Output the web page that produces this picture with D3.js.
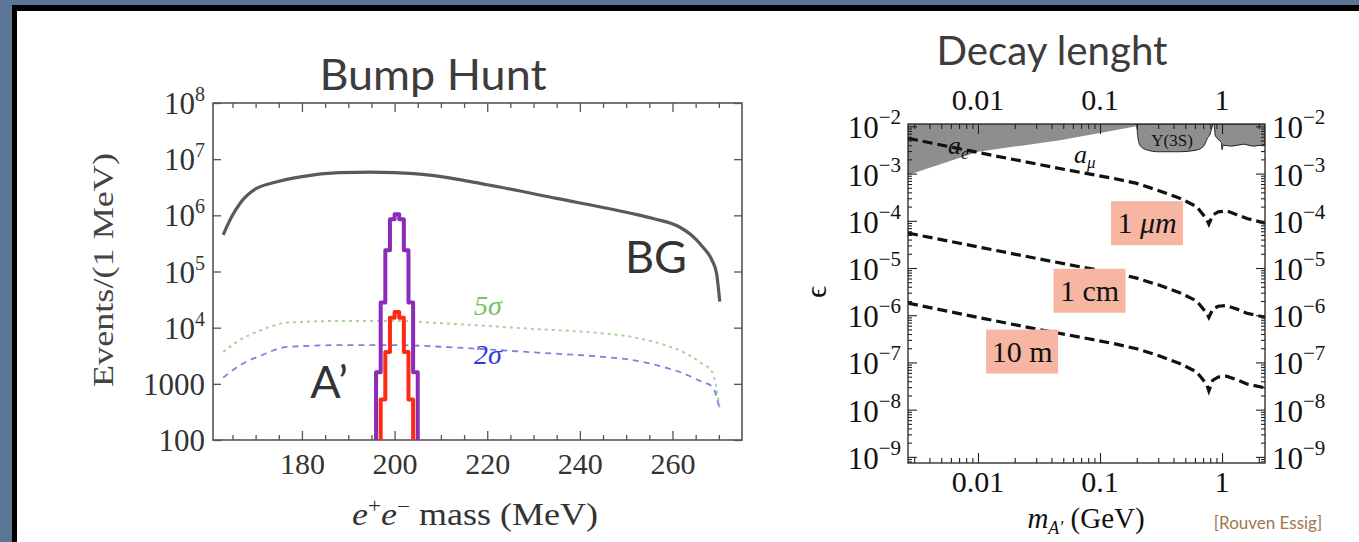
<!DOCTYPE html>
<html>
<head>
<meta charset="utf-8">
<script src="https://cdn.jsdelivr.net/npm/d3@7"></script>
<style>
  body { margin: 0; background: #fff; }
  svg { display: block; }
</style>
</head>
<body>
<div id="chart"></div>
<script>
// ---- bump hunt (left) ----
const bgMass = [163, 164.8, 166.7, 170, 173.8, 180, 188, 195, 200, 207.6, 220, 235, 250.7, 256, 261.5, 264, 266.5, 268.5, 269.5, 270.2];
const bgEvents = [4.5e5, 9.3e5, 1.66e6, 2.95e6, 3.8e6, 4.9e6, 5.75e6, 5.9e6, 5.75e6, 5.2e6, 3.5e6, 2.0e6, 1.1e6, 8.7e5, 6.2e5, 4.5e5, 2.75e5, 1.6e5, 9.3e4, 2.9e4];

const sigmaMass = [163, 167, 171, 177, 190, 200, 210, 230, 245, 251, 258, 262, 266, 268.6, 270.2];
const fiveSigma = [3700, 6300, 8900, 1.23e4, 1.32e4, 1.32e4, 1.2e4, 9500, 7900, 6900, 5000, 3800, 2400, 1600, 350];
const twoSigma = [1290, 2240, 3160, 4570, 4900, 4900, 4570, 3630, 3020, 2690, 2000, 1580, 1120, 890, 350];

const purpleEdges = [196, 197, 198, 199, 200, 201, 202, 203, 204, 205];
const purpleCounts = [1600, 2.8e4, 2.4e5, 8.5e5, 1.05e6, 8.5e5, 2.4e5, 2.8e4, 1600];
const redEdges = [197, 198, 199, 200, 201, 202, 203, 204];
const redCounts = [525, 3700, 1.5e4, 1.9e4, 1.5e4, 3700, 525];

const massTicks = [180, 200, 220, 240, 260];
const eventTicks = [100, 1000, 1e4, 1e5, 1e6, 1e7, 1e8];

// ---- decay length (right) ----
const lineMass = [0.00267, 0.01, 0.03, 0.07, 0.13, 0.2, 0.3, 0.45, 0.62, 0.75, 0.78, 0.84, 0.93, 1.09, 1.32, 1.6, 2.25];
const eps1um = [5.6e-3, 2.8e-3, 1.6e-3, 1.05e-3, 7.9e-4, 6.2e-4, 4.4e-4, 3.0e-4, 2.0e-4, 1.07e-4, 8.5e-5, 1.32e-4, 1.55e-4, 1.62e-4, 1.35e-4, 1.12e-4, 8.9e-5];
const eps1cm = [5.5e-5, 2.8e-5, 1.6e-5, 1.05e-5, 7.9e-6, 6.1e-6, 4.4e-6, 3.0e-6, 2.0e-6, 1.1e-6, 9.0e-7, 1.35e-6, 1.55e-6, 1.6e-6, 1.35e-6, 1.1e-6, 9.1e-7];
const eps10m = [1.8e-6, 9.0e-7, 5.1e-7, 3.4e-7, 2.5e-7, 1.95e-7, 1.4e-7, 9.5e-8, 6.3e-8, 3.4e-8, 2.5e-8, 4.2e-8, 4.9e-8, 5.1e-8, 4.3e-8, 3.5e-8, 2.9e-8];

// excluded regions (lower boundaries)
const amuMass = [0.00267, 0.01, 0.047, 0.2];
const amuEps = [9.3e-4, 2.9e-3, 5.1e-3, 1.0e-2];
const upsMass = [0.2, 0.205, 0.215, 0.24, 0.3, 0.45, 0.6, 0.7, 0.76, 0.8, 0.84];
const upsEps = [1.12e-2, 5.6e-3, 3.8e-3, 3.2e-3, 2.9e-3, 2.9e-3, 3.1e-3, 3.7e-3, 5.6e-3, 7.0e-3, 1.12e-2];
const hiMass = [0.86, 0.88, 0.95, 0.99, 1.0, 1.02, 1.2, 1.5, 1.8, 2.1, 2.25];
const hiEps = [1.12e-2, 6.3e-3, 5.0e-3, 4.5e-3, 3.2e-3, 4.0e-3, 3.8e-3, 4.2e-3, 3.8e-3, 4.0e-3, 4.2e-3];

const gevTicks = [0.01, 0.1, 1];
const epsExp = [-2, -3, -4, -5, -6, -7, -8, -9];

const W = 1359, H = 542;
const svg = d3.select('#chart').append('svg')
    .attr('width', W)
    .attr('height', H);

// slide frame
svg.append('rect').attr('width', W).attr('height', H).attr('fill', '#5b7596');
svg.append('rect').attr('x', 12).attr('y', 5).attr('width', W - 12).attr('height', H - 5).attr('fill', '#000');
svg.append('rect').attr('x', 17).attr('y', 11).attr('width', W - 17).attr('height', H - 11).attr('fill', '#fff');

const titleFont = 'Lato, "Open Sans", sans-serif';
const serif = '"Liberation Serif", "DejaVu Serif", serif';

svg.append('text').attr('x', 433).attr('y', 90)
    .attr('text-anchor', 'middle').attr('font-family', titleFont)
    .attr('font-size', 43).attr('fill', '#3c3c3c')
    .attr('textLength', 227).attr('lengthAdjust', 'spacingAndGlyphs').text('Bump Hunt');
svg.append('text').attr('x', 1052).attr('y', 65)
    .attr('text-anchor', 'middle').attr('font-family', titleFont)
    .attr('font-size', 40).attr('fill', '#3c3c3c')
    .attr('textLength', 231).attr('lengthAdjust', 'spacingAndGlyphs').text('Decay lenght');

// ================= left chart =================
const bx = d3.scaleLinear().domain([160.8, 275]).range([213, 742]);
const by = d3.scaleLog().domain([100, 1e8]).range([440, 103]);
const left = svg.append('g');

left.append('clipPath').attr('id', 'clipL')
    .append('rect').attr('x', 213).attr('y', 103).attr('width', 529).attr('height', 337);

function styleAxis(g, color) {
    g.select('.domain').remove();
    g.selectAll('line').attr('stroke', color).attr('stroke-width', 1.3);
}

const minorMass = d3.range(165, 275, 5).filter(d => d % 20 !== 0);
left.append('g').attr('transform', 'translate(0,440)')
    .call(d3.axisBottom(bx).tickValues(minorMass).tickSizeInner(-5).tickFormat(''))
    .call(g => styleAxis(g, '#555'));
left.append('g').attr('transform', 'translate(0,440)')
    .call(d3.axisBottom(bx).tickValues(massTicks).tickSizeInner(-9).tickPadding(13).tickFormat(d3.format('d')))
    .call(g => styleAxis(g, '#555'))
    .call(g => g.selectAll('text').attr('font-family', serif).attr('font-size', 30).attr('fill', '#333'));
left.append('g').attr('transform', 'translate(0,103)')
    .call(d3.axisTop(bx).tickValues(minorMass).tickSizeInner(-5).tickFormat(''))
    .call(g => styleAxis(g, '#555'));
left.append('g').attr('transform', 'translate(0,103)')
    .call(d3.axisTop(bx).tickValues(massTicks).tickSizeInner(-9).tickFormat(''))
    .call(g => styleAxis(g, '#555'));
left.append('g').attr('transform', 'translate(742,0)')
    .call(d3.axisRight(by).tickValues(eventTicks).tickSizeInner(-8).tickFormat(''))
    .call(g => styleAxis(g, '#555'));
left.append('g').attr('transform', 'translate(213,0)')
    .call(d3.axisLeft(by).tickValues(eventTicks).tickSizeInner(-8).tickFormat(''))
    .call(g => styleAxis(g, '#555'));

eventTicks.forEach(v => {
    const e = Math.round(Math.log10(v));
    const t = left.append('text').attr('x', 205).attr('y', by(v) + 11)
        .attr('text-anchor', 'end').attr('font-family', serif)
        .attr('font-size', 31).attr('fill', '#333');
    if (e <= 3) {
        t.text(String(v));
    } else {
        t.append('tspan').text('10');
        t.append('tspan').attr('font-size', 20).attr('dy', -13).text(e);
    }
});

left.append('rect').attr('x', 213).attr('y', 103).attr('width', 529).attr('height', 337)
    .attr('fill', 'none').attr('stroke', '#555').attr('stroke-width', 1.6);

const lineL = d3.line().x(d => bx(d[0])).y(d => by(d[1])).curve(d3.curveMonotoneX);
const plotL = left.append('g').attr('clip-path', 'url(#clipL)');

plotL.append('path').datum(d3.zip(sigmaMass, fiveSigma))
    .attr('d', lineL).attr('fill', 'none')
    .attr('stroke', '#a9d49a').attr('stroke-width', 2).attr('stroke-dasharray', '3,4');
plotL.append('path').datum(d3.zip(sigmaMass, twoSigma))
    .attr('d', lineL).attr('fill', 'none')
    .attr('stroke', '#7c82e0').attr('stroke-width', 1.8).attr('stroke-dasharray', '6,5');

plotL.append('path').datum(d3.zip(bgMass, bgEvents))
    .attr('d', lineL).attr('fill', 'none')
    .attr('stroke', '#5a5a5a').attr('stroke-width', 3.2);

function stepPoints(edges, counts) {
    const pts = [[edges[0], 100]];
    counts.forEach((c, i) => {
        pts.push([edges[i], c]);
        pts.push([edges[i + 1], c]);
    });
    pts.push([edges[edges.length - 1], 100]);
    return pts;
}
const stepLine = d3.line().x(d => bx(d[0])).y(d => by(d[1]));
plotL.append('path').datum(stepPoints(purpleEdges, purpleCounts))
    .attr('d', stepLine).attr('fill', 'none')
    .attr('stroke', '#8b2cb8').attr('stroke-width', 4).attr('stroke-linejoin', 'round');
plotL.append('path').datum(stepPoints(redEdges, redCounts))
    .attr('d', stepLine).attr('fill', 'none')
    .attr('stroke', '#ff2a14').attr('stroke-width', 4).attr('stroke-linejoin', 'round');

left.append('text').attr('x', 488).attr('y', 315).attr('text-anchor', 'middle')
    .attr('font-family', serif).attr('font-style', 'italic').attr('font-size', 28)
    .attr('fill', '#74c062').text('5σ');
left.append('text').attr('x', 488).attr('y', 364).attr('text-anchor', 'middle')
    .attr('font-family', serif).attr('font-style', 'italic').attr('font-size', 28)
    .attr('fill', '#2c3ee0').text('2σ');

left.append('text').attr('x', 329).attr('y', 398).attr('text-anchor', 'middle')
    .attr('font-family', titleFont).attr('font-size', 45).attr('fill', '#333').text('A’');
left.append('text').attr('x', 656).attr('y', 273).attr('text-anchor', 'middle')
    .attr('font-family', titleFont).attr('font-size', 45).attr('fill', '#333').text('BG');

const xt = left.append('text').attr('x', 475).attr('y', 525).attr('text-anchor', 'middle')
    .attr('font-family', serif).attr('font-size', 31).attr('fill', '#333')
    .attr('textLength', 246).attr('lengthAdjust', 'spacingAndGlyphs');
xt.append('tspan').attr('font-style', 'italic').text('e');
xt.append('tspan').attr('font-size', 20).attr('dy', -12).text('+');
xt.append('tspan').attr('font-style', 'italic').attr('dy', 12).text('e');
xt.append('tspan').attr('font-size', 20).attr('dy', -12).text('−');
xt.append('tspan').attr('dy', 12).text(' mass (MeV)');

left.append('text').attr('transform', 'translate(113,270) rotate(-90)')
    .attr('text-anchor', 'middle').attr('font-family', serif)
    .attr('font-size', 30).attr('fill', '#444')
    .attr('textLength', 234).attr('lengthAdjust', 'spacingAndGlyphs').text('Events/(1 MeV)');

// ================= right chart =================
const dx = d3.scaleLog().domain([0.00267, 2.25]).range([908, 1265]);
const dy = d3.scaleLog().domain([Math.pow(10, -9.13), Math.pow(10, -1.95)]).range([463, 124]);
const right = svg.append('g');

right.append('clipPath').attr('id', 'clipR')
    .append('rect').attr('x', 908).attr('y', 124).attr('width', 357).attr('height', 339);
const plotR = right.append('g').attr('clip-path', 'url(#clipR)');

const epsTop = dy.domain()[1];
const areaR = d3.area().x(d => dx(d[0])).y0(dy(epsTop)).y1(d => dy(d[1]));
plotR.append('path').datum(d3.zip(amuMass, amuEps))
    .attr('d', areaR).attr('fill', '#8e8e8e');
plotR.append('path').datum(d3.zip(upsMass, upsEps))
    .attr('d', areaR.curve(d3.curveMonotoneX)).attr('fill', '#8e8e8e')
    .attr('stroke', '#222').attr('stroke-width', 1);
plotR.append('path').datum(d3.zip(hiMass, hiEps))
    .attr('d', areaR.curve(d3.curveLinear)).attr('fill', '#8e8e8e')
    .attr('stroke', '#222').attr('stroke-width', 1);

const lineR = d3.line().x(d => dx(d[0])).y(d => dy(d[1]));
[eps1um, eps1cm, eps10m].forEach(eps => {
    plotR.append('path').datum(d3.zip(lineMass, eps))
        .attr('d', lineR).attr('fill', 'none')
        .attr('stroke', '#111').attr('stroke-width', 3.2)
        .attr('stroke-dasharray', '10,5');
});

// ticks
const minorGev = [];
[0.001, 0.01, 0.1, 1].forEach(b => d3.range(2, 10).forEach(k => {
    const v = b * k;
    if (v >= 0.00267 && v <= 2.25) minorGev.push(v);
}));
const minorEps = [];
d3.range(-10, -1).forEach(e => d3.range(2, 10).forEach(k => {
    const v = k * Math.pow(10, e);
    if (v >= dy.domain()[0] && v <= epsTop) minorEps.push(v);
}));
const epsMajor = epsExp.map(e => Math.pow(10, e));

function thin(g) {
    g.select('.domain').remove();
    g.selectAll('line').attr('stroke', '#222').attr('stroke-width', 1.1);
}
right.append('g').attr('transform', 'translate(0,463)')
    .call(d3.axisBottom(dx).tickValues(minorGev).tickSizeInner(-5).tickFormat('')).call(thin);
right.append('g').attr('transform', 'translate(0,463)')
    .call(d3.axisBottom(dx).tickValues(gevTicks).tickSizeInner(-10).tickFormat('')).call(thin);
right.append('g').attr('transform', 'translate(0,124)')
    .call(d3.axisTop(dx).tickValues(minorGev).tickSizeInner(-5).tickFormat('')).call(thin);
right.append('g').attr('transform', 'translate(0,124)')
    .call(d3.axisTop(dx).tickValues(gevTicks).tickSizeInner(-10).tickFormat('')).call(thin);
right.append('g').attr('transform', 'translate(908,0)')
    .call(d3.axisLeft(dy).tickValues(minorEps).tickSizeInner(-4).tickFormat('')).call(thin);
right.append('g').attr('transform', 'translate(908,0)')
    .call(d3.axisLeft(dy).tickValues(epsMajor).tickSizeInner(-9).tickFormat('')).call(thin);
right.append('g').attr('transform', 'translate(1265,0)')
    .call(d3.axisRight(dy).tickValues(minorEps).tickSizeInner(-4).tickFormat('')).call(thin);
right.append('g').attr('transform', 'translate(1265,0)')
    .call(d3.axisRight(dy).tickValues(epsMajor).tickSizeInner(-9).tickFormat('')).call(thin);

right.append('rect').attr('x', 908).attr('y', 124).attr('width', 357).attr('height', 339)
    .attr('fill', 'none').attr('stroke', '#222').attr('stroke-width', 1.3);

gevTicks.forEach(v => {
    [110, 492].forEach(yy => {
        right.append('text').attr('x', dx(v)).attr('y', yy).attr('text-anchor', 'middle')
            .attr('font-family', serif).attr('font-size', 30).attr('fill', '#111')
            .text(String(v));
    });
});
epsExp.forEach(e => {
    const yv = dy(Math.pow(10, e));
    [[901, 'end'], [1272, 'start']].forEach(([xx, anchor]) => {
        const t = right.append('text').attr('x', xx).attr('y', yv + 12)
            .attr('text-anchor', anchor).attr('font-family', serif)
            .attr('font-size', 31).attr('fill', '#111');
        t.append('tspan').text('10');
        t.append('tspan').attr('font-size', 21).attr('dy', -14).text('−' + (-e));
    });
});

// region / line labels
right.append('text').attr('x', dx(0.39)).attr('y', dy(5.1e-3) + 6).attr('text-anchor', 'middle')
    .attr('font-family', serif).attr('font-size', 17).attr('fill', '#111').text('Υ(3S)');
const ae = right.append('text').attr('x', dx(0.0069)).attr('y', dy(3.5e-3) + 6)
    .attr('text-anchor', 'middle').attr('font-family', serif).attr('font-size', 26).attr('fill', '#111');
ae.append('tspan').attr('font-style', 'italic').text('a');
ae.append('tspan').attr('font-style', 'italic').attr('font-size', 17).attr('dy', 5).text('e');
const amu = right.append('text').attr('x', dx(0.075)).attr('y', dy(2.2e-3) + 6)
    .attr('text-anchor', 'middle').attr('font-family', serif).attr('font-size', 26).attr('fill', '#111');
amu.append('tspan').attr('font-style', 'italic').text('a');
amu.append('tspan').attr('font-style', 'italic').attr('font-size', 17).attr('dy', 5).text('μ');

const boxLabels = [
    { m: 0.243, eps: 8.9e-5, num: '1', unit: 'μm', italic: true },
    { m: 0.082, eps: 3.3e-6, num: '1', unit: 'cm', italic: false },
    { m: 0.023, eps: 1.7e-7, num: '10', unit: 'm', italic: false }
];
boxLabels.forEach(b => {
    const cx = dx(b.m), cy = dy(b.eps);
    right.append('rect').attr('x', cx - 36).attr('y', cy - 22).attr('width', 72).attr('height', 44)
        .attr('fill', '#f6b6a2');
    const t = right.append('text').attr('x', cx).attr('y', cy + 10).attr('text-anchor', 'middle')
        .attr('font-family', serif).attr('font-size', 30).attr('fill', '#111');
    t.append('tspan').text(b.num + ' ');
    t.append('tspan').attr('font-style', b.italic ? 'italic' : 'normal').text(b.unit);
});

right.append('text').attr('transform', 'translate(826,292) rotate(-90)')
    .attr('text-anchor', 'middle').attr('font-family', serif).attr('font-size', 30)
    .attr('fill', '#111').text('ϵ');

const mt = right.append('text').attr('x', 1086).attr('y', 528).attr('text-anchor', 'middle')
    .attr('font-family', serif).attr('font-size', 29).attr('fill', '#111');
mt.append('tspan').attr('font-style', 'italic').text('m');
mt.append('tspan').attr('font-style', 'italic').attr('font-size', 18).attr('dy', 6).text('A′');
mt.append('tspan').attr('dy', -6).text(' (GeV)');

right.append('text').attr('x', 1268).attr('y', 529).attr('text-anchor', 'middle')
    .attr('font-family', titleFont).attr('font-size', 17).attr('fill', '#a3764c')
    .text('[Rouven Essig]');
</script>
</body>
</html>
